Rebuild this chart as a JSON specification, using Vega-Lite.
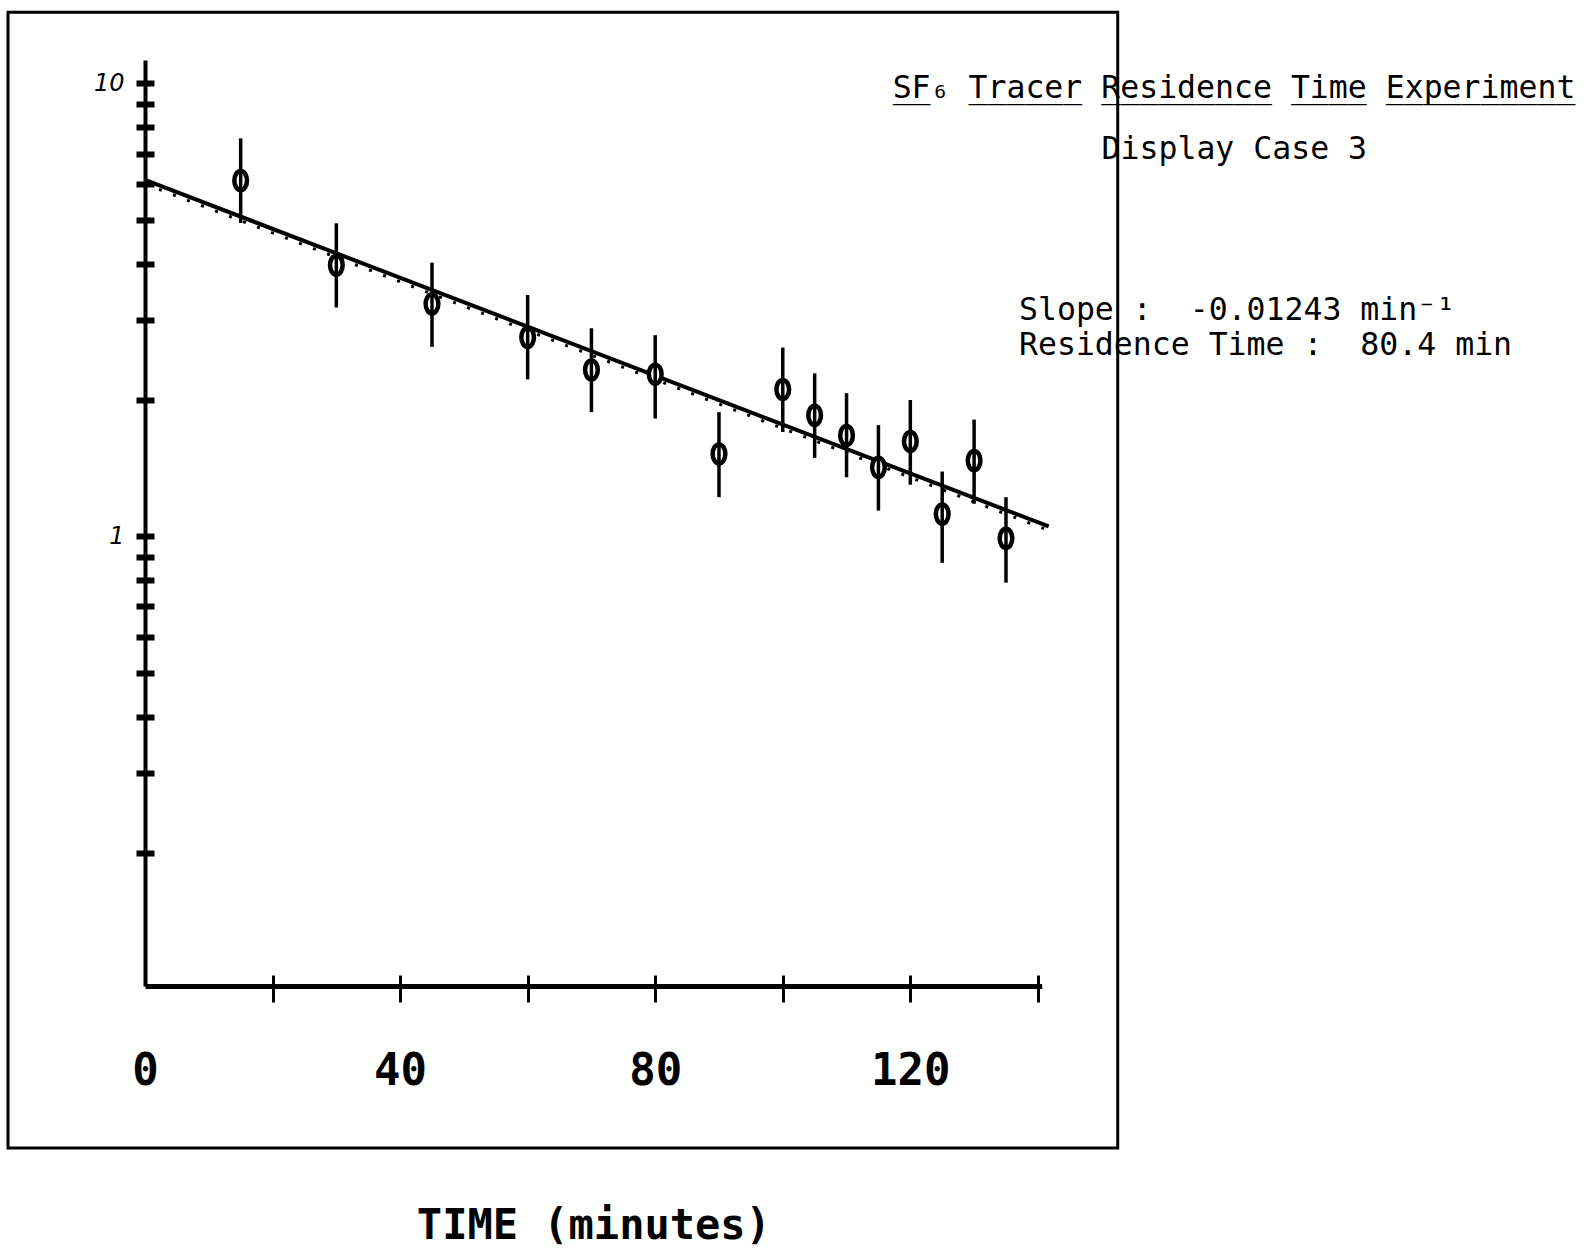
{
  "$schema": "https://vega.github.io/schema/vega-lite/v6.json",
  "width": 896.7,
  "height": 926,
  "autosize": {"type": "none"},
  "padding": {"left": 145, "top": 60, "right": 548.3, "bottom": 269},
  "background": "white",
  "config": {
    "view": {"stroke": null},
    "axis": {"grid": false, "domainColor": "black", "tickColor": "black", "labelColor": "black", "titleColor": "black"}
  },
  "datasets": {
    "measurements": [
      {"time": 15, "conc": 6.10, "lo": 4.92, "hi": 7.56},
      {"time": 30, "conc": 3.97, "lo": 3.20, "hi": 4.91},
      {"time": 45, "conc": 3.26, "lo": 2.62, "hi": 4.02},
      {"time": 60, "conc": 2.75, "lo": 2.22, "hi": 3.41},
      {"time": 70, "conc": 2.33, "lo": 1.88, "hi": 2.88},
      {"time": 80, "conc": 2.28, "lo": 1.82, "hi": 2.78},
      {"time": 90, "conc": 1.52, "lo": 1.22, "hi": 1.88},
      {"time": 100, "conc": 2.11, "lo": 1.70, "hi": 2.61},
      {"time": 105, "conc": 1.85, "lo": 1.49, "hi": 2.29},
      {"time": 110, "conc": 1.67, "lo": 1.35, "hi": 2.07},
      {"time": 115, "conc": 1.42, "lo": 1.14, "hi": 1.76},
      {"time": 120, "conc": 1.62, "lo": 1.30, "hi": 2.00},
      {"time": 125, "conc": 1.12, "lo": 0.874, "hi": 1.39},
      {"time": 130, "conc": 1.47, "lo": 1.18, "hi": 1.81},
      {"time": 135, "conc": 0.99, "lo": 0.79, "hi": 1.22}
    ],
    "fit": [
      {"time": 0, "conc": 6.12},
      {"time": 141.7, "conc": 1.0515}
    ]
  },
  "layer": [
    {
      "data": {"values": [{}]},
      "mark": {"type": "rect", "fill": null, "stroke": "black", "strokeWidth": 3, "clip": false},
      "encoding": {
        "x": {"datum": -21.48, "type": "quantitative", "axis": null, "scale": {"type": "linear", "domain": [0, 140.6], "nice": false, "zero": false}},
        "x2": {"datum": 152.52},
        "y": {"datum": 14.36, "type": "quantitative", "axis": null, "scale": {"type": "log", "domain": [0.1017, 11.26], "nice": false}},
        "y2": {"datum": 0.04465}
      }
    },
    {
      "data": {"name": "fit"},
      "mark": {"type": "line", "color": "black", "strokeWidth": 4, "clip": false},
      "encoding": {
        "x": {"field": "time", "type": "quantitative", "axis": null, "scale": {"type": "linear", "domain": [0, 140.6], "nice": false, "zero": false}},
        "y": {"field": "conc", "type": "quantitative", "axis": null, "scale": {"type": "log", "domain": [0.1017, 11.26], "nice": false}}
      }
    },
    {
      "data": {"name": "fit"},
      "mark": {"type": "line", "color": "black", "strokeWidth": 3, "strokeDash": [3, 12], "yOffset": 4, "clip": false},
      "encoding": {
        "x": {"field": "time", "type": "quantitative", "axis": null, "scale": {"type": "linear", "domain": [0, 140.6], "nice": false, "zero": false}},
        "y": {"field": "conc", "type": "quantitative", "axis": null, "scale": {"type": "log", "domain": [0.1017, 11.26], "nice": false}}
      }
    },
    {
      "data": {"name": "measurements"},
      "mark": {
        "type": "point",
        "shape": "M0,-1.5C0.6,-1.5 1,-0.8 1,0C1,0.8 0.6,1.5 0,1.5C-0.6,1.5 -1,0.8 -1,0C-1,-0.8 -0.6,-1.5 0,-1.5Z",
        "size": 160,
        "filled": false,
        "fill": "white",
        "fillOpacity": 1,
        "stroke": "black",
        "strokeWidth": 4.5,
        "opacity": 1
      },
      "encoding": {
        "x": {
          "field": "time", "type": "quantitative",
          "scale": {"type": "linear", "domain": [0, 140.6], "nice": false, "zero": false},
          "axis": {"orient": "bottom", "values": [20, 40, 60, 80, 100, 120, 140], "domain": false, "labels": false, "title": null, "tickSize": -11, "tickWidth": 3}
        },
        "y": {
          "field": "conc", "type": "quantitative",
          "scale": {"type": "log", "domain": [0.1017, 11.26], "nice": false},
          "axis": {"orient": "left", "values": [0.2, 0.3, 0.4, 0.5, 0.6, 0.7, 0.8, 0.9, 1, 2, 3, 4, 5, 6, 7, 8, 9, 10], "domain": false, "labels": false, "title": null, "tickSize": -9, "tickWidth": 6}
        }
      }
    },
    {
      "data": {"name": "measurements"},
      "mark": {"type": "rule", "color": "black", "strokeWidth": 3.5},
      "encoding": {
        "x": {
          "field": "time", "type": "quantitative",
          "scale": {"type": "linear", "domain": [0, 140.6], "nice": false, "zero": false},
          "axis": {
            "orient": "bottom",
            "values": [0, 20, 40, 60, 80, 100, 120, 140],
            "domain": true, "domainWidth": 5,
            "tickSize": 16, "tickWidth": 3,
            "tickOpacity": {"condition": {"test": "datum.value == 0", "value": 0}, "value": 1},
            "labelExpr": "datum.value % 40 == 0 ? datum.label : ''",
            "labelFont": "DejaVu Sans Mono",
            "labelFontWeight": "bold",
            "labelFontSize": 44,
            "labelPadding": 47,
            "labelFlush": false,
            "labelOverlap": false,
            "title": "TIME (minutes)",
            "titleFont": "DejaVu Sans Mono",
            "titleFontWeight": "bold",
            "titleFontSize": 42,
            "titlePadding": 112
          }
        },
        "y": {
          "field": "lo", "type": "quantitative",
          "scale": {"type": "log", "domain": [0.1017, 11.26], "nice": false},
          "axis": {
            "orient": "left",
            "values": [0.2, 0.3, 0.4, 0.5, 0.6, 0.7, 0.8, 0.9, 1, 2, 3, 4, 5, 6, 7, 8, 9, 10],
            "domain": true, "domainWidth": 4,
            "tickSize": 9, "tickWidth": 6,
            "labelExpr": "datum.value == 10 ? '10' : datum.value == 1 ? '1' : ''",
            "labelFont": "DejaVu Sans",
            "labelFontStyle": "italic",
            "labelFontSize": 24,
            "labelPadding": 12,
            "labelOverlap": false,
            "labelFlush": false,
            "title": null
          }
        },
        "y2": {"field": "hi"}
      }
    },
    {
      "data": {"values": [{}]},
      "mark": {"type": "text", "text": "SF₆ Tracer Residence Time Experiment", "font": "DejaVu Sans Mono", "fontSize": 31.5, "align": "center", "baseline": "middle", "color": "black"},
      "encoding": {
        "x": {"datum": 170.75, "type": "quantitative", "axis": null, "scale": {"type": "linear", "domain": [0, 140.6], "nice": false, "zero": false}},
        "y": {"datum": 9.717, "type": "quantitative", "axis": null, "scale": {"type": "log", "domain": [0.1017, 11.26], "nice": false}}
      }
    },
    {
      "data": {"values": [{}]},
      "mark": {"type": "text", "text": "__\u00a0\u00a0______\u00a0_________\u00a0____\u00a0__________", "font": "DejaVu Sans Mono", "fontSize": 31.5, "align": "center", "baseline": "middle", "color": "black"},
      "encoding": {
        "x": {"datum": 170.75, "type": "quantitative", "axis": null, "scale": {"type": "linear", "domain": [0, 140.6], "nice": false, "zero": false}},
        "y": {"datum": 9.717, "type": "quantitative", "axis": null, "scale": {"type": "log", "domain": [0.1017, 11.26], "nice": false}}
      }
    },
    {
      "data": {"values": [{}]},
      "mark": {"type": "text", "text": "Display\u00a0Case\u00a03", "font": "DejaVu Sans Mono", "fontSize": 31.5, "align": "center", "baseline": "middle", "color": "black"},
      "encoding": {
        "x": {"datum": 170.8, "type": "quantitative", "axis": null, "scale": {"type": "linear", "domain": [0, 140.6], "nice": false, "zero": false}},
        "y": {"datum": 7.127, "type": "quantitative", "axis": null, "scale": {"type": "log", "domain": [0.1017, 11.26], "nice": false}}
      }
    },
    {
      "data": {"values": [{}]},
      "mark": {"type": "text", "text": "Slope\u00a0:\u00a0\u00a0-0.01243\u00a0min⁻¹", "font": "DejaVu Sans Mono", "fontSize": 31.5, "align": "left", "baseline": "middle", "color": "black"},
      "encoding": {
        "x": {"datum": 137.04, "type": "quantitative", "axis": null, "scale": {"type": "linear", "domain": [0, 140.6], "nice": false, "zero": false}},
        "y": {"datum": 3.144, "type": "quantitative", "axis": null, "scale": {"type": "log", "domain": [0.1017, 11.26], "nice": false}}
      }
    },
    {
      "data": {"values": [{}]},
      "mark": {"type": "text", "text": "Residence\u00a0Time\u00a0:\u00a0\u00a080.4\u00a0min", "font": "DejaVu Sans Mono", "fontSize": 31.5, "align": "left", "baseline": "middle", "color": "black"},
      "encoding": {
        "x": {"datum": 137.04, "type": "quantitative", "axis": null, "scale": {"type": "linear", "domain": [0, 140.6], "nice": false, "zero": false}},
        "y": {"datum": 2.632, "type": "quantitative", "axis": null, "scale": {"type": "log", "domain": [0.1017, 11.26], "nice": false}}
      }
    }
  ],
  "resolve": {"axis": {"x": "independent", "y": "independent"}}
}
